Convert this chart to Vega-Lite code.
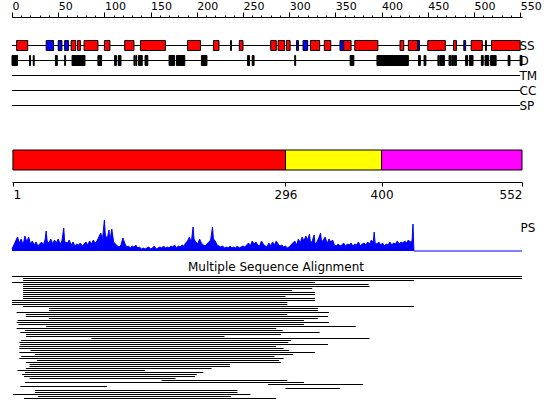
{
  "$schema": "https://vega.github.io/schema/vega-lite/v6.json",
  "background": "white",
  "padding": {"left": 10, "top": 0, "right": 0, "bottom": 0},
  "spacing": 11,
  "config": {
    "view": {"stroke": null},
    "font": "DejaVu Sans",
    "axis": {"labelFont": "DejaVu Sans", "labelColor": "black", "tickColor": "black", "domainColor": "black", "grid": false, "title": null}
  },
  "datasets": {
    "tracks": [
      {"track": "SS", "start": 0, "end": 550},
      {"track": "D", "start": 0, "end": 550},
      {"track": "TM", "start": 0, "end": 550},
      {"track": "CC", "start": 0, "end": 550},
      {"track": "SP", "start": 0, "end": 550}
    ],
    "features": [
      {"track": "SS", "kind": "helix", "start": 5, "end": 17},
      {"track": "SS", "kind": "strand", "start": 37, "end": 45},
      {"track": "SS", "kind": "strand", "start": 50, "end": 54},
      {"track": "SS", "kind": "strand", "start": 57, "end": 61},
      {"track": "SS", "kind": "helix", "start": 64, "end": 69},
      {"track": "SS", "kind": "helix", "start": 71, "end": 74},
      {"track": "SS", "kind": "helix", "start": 78, "end": 93},
      {"track": "SS", "kind": "helix", "start": 100, "end": 106},
      {"track": "SS", "kind": "helix", "start": 122, "end": 132},
      {"track": "SS", "kind": "helix", "start": 139, "end": 166},
      {"track": "SS", "kind": "helix", "start": 190, "end": 204},
      {"track": "SS", "kind": "helix", "start": 218, "end": 224},
      {"track": "SS", "kind": "helix", "start": 236.5, "end": 237.5},
      {"track": "SS", "kind": "helix", "start": 246, "end": 250},
      {"track": "SS", "kind": "helix", "start": 280, "end": 286},
      {"track": "SS", "kind": "helix", "start": 288, "end": 295},
      {"track": "SS", "kind": "helix", "start": 297, "end": 301},
      {"track": "SS", "kind": "strand", "start": 308, "end": 310},
      {"track": "SS", "kind": "strand", "start": 315, "end": 320},
      {"track": "SS", "kind": "helix", "start": 323, "end": 333},
      {"track": "SS", "kind": "helix", "start": 338, "end": 345},
      {"track": "SS", "kind": "strand", "start": 355, "end": 359},
      {"track": "SS", "kind": "helix", "start": 359, "end": 367},
      {"track": "SS", "kind": "helix", "start": 371, "end": 396},
      {"track": "SS", "kind": "helix", "start": 420, "end": 424},
      {"track": "SS", "kind": "helix", "start": 429, "end": 439},
      {"track": "SS", "kind": "strand", "start": 439, "end": 441},
      {"track": "SS", "kind": "helix", "start": 450, "end": 469},
      {"track": "SS", "kind": "helix", "start": 478, "end": 481},
      {"track": "SS", "kind": "strand", "start": 489, "end": 491},
      {"track": "SS", "kind": "helix", "start": 497, "end": 509},
      {"track": "SS", "kind": "helix", "start": 512.5, "end": 513.5},
      {"track": "SS", "kind": "helix", "start": 519, "end": 550},
      {"track": "D", "kind": "disorder", "start": 0, "end": 6},
      {"track": "D", "kind": "disorder", "start": 19, "end": 20},
      {"track": "D", "kind": "disorder", "start": 23, "end": 24},
      {"track": "D", "kind": "disorder", "start": 47, "end": 49},
      {"track": "D", "kind": "disorder", "start": 57, "end": 58},
      {"track": "D", "kind": "disorder", "start": 65, "end": 79},
      {"track": "D", "kind": "disorder", "start": 93, "end": 97},
      {"track": "D", "kind": "disorder", "start": 111, "end": 113},
      {"track": "D", "kind": "disorder", "start": 115, "end": 118},
      {"track": "D", "kind": "disorder", "start": 132, "end": 133},
      {"track": "D", "kind": "disorder", "start": 134, "end": 135},
      {"track": "D", "kind": "disorder", "start": 137, "end": 141},
      {"track": "D", "kind": "disorder", "start": 144, "end": 147},
      {"track": "D", "kind": "disorder", "start": 170, "end": 176},
      {"track": "D", "kind": "disorder", "start": 178, "end": 187},
      {"track": "D", "kind": "disorder", "start": 205, "end": 211},
      {"track": "D", "kind": "disorder", "start": 255, "end": 257},
      {"track": "D", "kind": "disorder", "start": 260, "end": 262},
      {"track": "D", "kind": "disorder", "start": 306, "end": 307},
      {"track": "D", "kind": "disorder", "start": 366, "end": 370},
      {"track": "D", "kind": "disorder", "start": 395, "end": 429},
      {"track": "D", "kind": "disorder", "start": 440, "end": 442},
      {"track": "D", "kind": "disorder", "start": 446, "end": 448},
      {"track": "D", "kind": "disorder", "start": 461, "end": 462},
      {"track": "D", "kind": "disorder", "start": 463, "end": 468},
      {"track": "D", "kind": "disorder", "start": 473, "end": 475},
      {"track": "D", "kind": "disorder", "start": 476, "end": 478},
      {"track": "D", "kind": "disorder", "start": 479, "end": 481},
      {"track": "D", "kind": "disorder", "start": 491, "end": 493},
      {"track": "D", "kind": "disorder", "start": 495, "end": 499},
      {"track": "D", "kind": "disorder", "start": 508, "end": 510},
      {"track": "D", "kind": "disorder", "start": 512, "end": 516},
      {"track": "D", "kind": "disorder", "start": 518, "end": 524},
      {"track": "D", "kind": "disorder", "start": 537, "end": 539},
      {"track": "D", "kind": "disorder", "start": 550, "end": 552}
    ],
    "domains": [
      {"domain": "d1", "start": 1, "end": 296},
      {"domain": "d2", "start": 296, "end": 400},
      {"domain": "d3", "start": 400, "end": 552}
    ],
    "ps": [
      {"pos": 0, "score": 2}, {"pos": 2, "score": 6}, {"pos": 4, "score": 10}, {"pos": 6, "score": 14}, {"pos": 8, "score": 8},
      {"pos": 10, "score": 12}, {"pos": 12, "score": 6}, {"pos": 14, "score": 15}, {"pos": 16, "score": 9}, {"pos": 18, "score": 14},
      {"pos": 20, "score": 7}, {"pos": 22, "score": 10}, {"pos": 24, "score": 6}, {"pos": 26, "score": 9}, {"pos": 28, "score": 5},
      {"pos": 30, "score": 7}, {"pos": 32, "score": 9}, {"pos": 34, "score": 6}, {"pos": 36, "score": 12}, {"pos": 37, "score": 20},
      {"pos": 38, "score": 10}, {"pos": 40, "score": 8}, {"pos": 42, "score": 12}, {"pos": 44, "score": 7}, {"pos": 46, "score": 11},
      {"pos": 48, "score": 8}, {"pos": 50, "score": 12}, {"pos": 52, "score": 7}, {"pos": 54, "score": 10}, {"pos": 56, "score": 23},
      {"pos": 57, "score": 9}, {"pos": 60, "score": 8}, {"pos": 62, "score": 11}, {"pos": 64, "score": 6}, {"pos": 66, "score": 9},
      {"pos": 68, "score": 5}, {"pos": 70, "score": 7}, {"pos": 72, "score": 6}, {"pos": 74, "score": 8}, {"pos": 76, "score": 5},
      {"pos": 78, "score": 7}, {"pos": 80, "score": 9}, {"pos": 82, "score": 6}, {"pos": 84, "score": 10}, {"pos": 86, "score": 7},
      {"pos": 88, "score": 11}, {"pos": 90, "score": 8}, {"pos": 92, "score": 10}, {"pos": 94, "score": 14}, {"pos": 96, "score": 18},
      {"pos": 98, "score": 12}, {"pos": 100, "score": 31}, {"pos": 101, "score": 16}, {"pos": 103, "score": 12}, {"pos": 105, "score": 21},
      {"pos": 106, "score": 10}, {"pos": 108, "score": 22}, {"pos": 110, "score": 9}, {"pos": 112, "score": 7}, {"pos": 114, "score": 5},
      {"pos": 116, "score": 4}, {"pos": 118, "score": 6}, {"pos": 120, "score": 13}, {"pos": 122, "score": 8}, {"pos": 124, "score": 4},
      {"pos": 126, "score": 5}, {"pos": 128, "score": 3}, {"pos": 130, "score": 5}, {"pos": 132, "score": 4}, {"pos": 134, "score": 6},
      {"pos": 136, "score": 3}, {"pos": 138, "score": 4}, {"pos": 140, "score": 2}, {"pos": 142, "score": 3}, {"pos": 144, "score": 2},
      {"pos": 146, "score": 3}, {"pos": 148, "score": 4}, {"pos": 150, "score": 2}, {"pos": 152, "score": 3}, {"pos": 154, "score": 5},
      {"pos": 156, "score": 2}, {"pos": 158, "score": 3}, {"pos": 160, "score": 4}, {"pos": 162, "score": 3}, {"pos": 164, "score": 5},
      {"pos": 166, "score": 3}, {"pos": 168, "score": 4}, {"pos": 170, "score": 3}, {"pos": 172, "score": 5}, {"pos": 174, "score": 4},
      {"pos": 176, "score": 6}, {"pos": 178, "score": 3}, {"pos": 180, "score": 5}, {"pos": 182, "score": 4}, {"pos": 184, "score": 6},
      {"pos": 186, "score": 5}, {"pos": 188, "score": 8}, {"pos": 190, "score": 10}, {"pos": 192, "score": 14}, {"pos": 194, "score": 8},
      {"pos": 196, "score": 24}, {"pos": 197, "score": 12}, {"pos": 199, "score": 9}, {"pos": 201, "score": 7}, {"pos": 203, "score": 12},
      {"pos": 205, "score": 8}, {"pos": 207, "score": 6}, {"pos": 209, "score": 5}, {"pos": 211, "score": 7}, {"pos": 213, "score": 9},
      {"pos": 215, "score": 11}, {"pos": 217, "score": 24}, {"pos": 218, "score": 12}, {"pos": 220, "score": 10}, {"pos": 222, "score": 6},
      {"pos": 224, "score": 5}, {"pos": 226, "score": 4}, {"pos": 228, "score": 5}, {"pos": 230, "score": 3}, {"pos": 232, "score": 4},
      {"pos": 234, "score": 3}, {"pos": 236, "score": 5}, {"pos": 238, "score": 3}, {"pos": 240, "score": 4}, {"pos": 242, "score": 3},
      {"pos": 244, "score": 5}, {"pos": 246, "score": 3}, {"pos": 248, "score": 4}, {"pos": 250, "score": 5}, {"pos": 252, "score": 4},
      {"pos": 254, "score": 6}, {"pos": 256, "score": 8}, {"pos": 258, "score": 5}, {"pos": 260, "score": 10}, {"pos": 262, "score": 7},
      {"pos": 264, "score": 9}, {"pos": 266, "score": 6}, {"pos": 268, "score": 5}, {"pos": 270, "score": 10}, {"pos": 272, "score": 7},
      {"pos": 274, "score": 5}, {"pos": 276, "score": 4}, {"pos": 278, "score": 8}, {"pos": 280, "score": 5}, {"pos": 282, "score": 9},
      {"pos": 284, "score": 6}, {"pos": 286, "score": 10}, {"pos": 288, "score": 7}, {"pos": 290, "score": 5}, {"pos": 292, "score": 6},
      {"pos": 294, "score": 4}, {"pos": 296, "score": 5}, {"pos": 298, "score": 3}, {"pos": 300, "score": 4}, {"pos": 302, "score": 6},
      {"pos": 304, "score": 8}, {"pos": 306, "score": 10}, {"pos": 308, "score": 6}, {"pos": 310, "score": 12}, {"pos": 312, "score": 8},
      {"pos": 314, "score": 14}, {"pos": 316, "score": 10}, {"pos": 318, "score": 15}, {"pos": 320, "score": 11}, {"pos": 322, "score": 17},
      {"pos": 323, "score": 8}, {"pos": 325, "score": 10}, {"pos": 327, "score": 16}, {"pos": 328, "score": 7}, {"pos": 330, "score": 9},
      {"pos": 332, "score": 13}, {"pos": 334, "score": 18}, {"pos": 335, "score": 9}, {"pos": 337, "score": 11}, {"pos": 339, "score": 14},
      {"pos": 341, "score": 7}, {"pos": 343, "score": 12}, {"pos": 345, "score": 9}, {"pos": 347, "score": 11}, {"pos": 349, "score": 6},
      {"pos": 351, "score": 5}, {"pos": 353, "score": 7}, {"pos": 355, "score": 5}, {"pos": 357, "score": 6}, {"pos": 359, "score": 8},
      {"pos": 361, "score": 5}, {"pos": 363, "score": 7}, {"pos": 365, "score": 6}, {"pos": 367, "score": 8}, {"pos": 369, "score": 5},
      {"pos": 371, "score": 7}, {"pos": 373, "score": 6}, {"pos": 375, "score": 9}, {"pos": 377, "score": 5}, {"pos": 379, "score": 7},
      {"pos": 381, "score": 8}, {"pos": 383, "score": 6}, {"pos": 385, "score": 9}, {"pos": 387, "score": 7}, {"pos": 389, "score": 11},
      {"pos": 391, "score": 8}, {"pos": 392, "score": 19}, {"pos": 393, "score": 8}, {"pos": 395, "score": 7}, {"pos": 397, "score": 9},
      {"pos": 399, "score": 6}, {"pos": 401, "score": 8}, {"pos": 403, "score": 5}, {"pos": 405, "score": 7}, {"pos": 407, "score": 6},
      {"pos": 409, "score": 9}, {"pos": 411, "score": 6}, {"pos": 413, "score": 8}, {"pos": 415, "score": 7}, {"pos": 417, "score": 10},
      {"pos": 419, "score": 7}, {"pos": 421, "score": 9}, {"pos": 423, "score": 8}, {"pos": 425, "score": 10}, {"pos": 427, "score": 8},
      {"pos": 429, "score": 11}, {"pos": 431, "score": 9}, {"pos": 433, "score": 10}, {"pos": 434, "score": 27}, {"pos": 435, "score": 0},
      {"pos": 552, "score": 0}
    ],
    "msa": [
      {"seq": "s01", "start": 0, "end": 552}, {"seq": "s02", "start": 12, "end": 552}, {"seq": "s03", "start": 12, "end": 435},
      {"seq": "s04", "start": 0, "end": 328}, {"seq": "s05", "start": 12, "end": 386}, {"seq": "s06", "start": 12, "end": 387},
      {"seq": "s07", "start": 12, "end": 325}, {"seq": "s08", "start": 12, "end": 303}, {"seq": "s09", "start": 12, "end": 328},
      {"seq": "s10", "start": 12, "end": 328}, {"seq": "s11", "start": 12, "end": 296}, {"seq": "s12", "start": 12, "end": 328},
      {"seq": "s13", "start": 0, "end": 328}, {"seq": "s14", "start": 0, "end": 298}, {"seq": "s15", "start": 0, "end": 298},
      {"seq": "s16", "start": 12, "end": 435}, {"seq": "s17", "start": 40, "end": 331}, {"seq": "s18", "start": 40, "end": 331},
      {"seq": "s19", "start": 5, "end": 343}, {"seq": "s20", "start": 15, "end": 298}, {"seq": "s21", "start": 15, "end": 342},
      {"seq": "s22", "start": 40, "end": 331}, {"seq": "s23", "start": 6, "end": 316}, {"seq": "s24", "start": 5, "end": 343},
      {"seq": "s25", "start": 7, "end": 316}, {"seq": "s26", "start": 37, "end": 372}, {"seq": "s27", "start": 5, "end": 286},
      {"seq": "s28", "start": 14, "end": 293}, {"seq": "s29", "start": 9, "end": 333}, {"seq": "s30", "start": 15, "end": 291},
      {"seq": "s31", "start": 15, "end": 230}, {"seq": "s32", "start": 86, "end": 387}, {"seq": "s33", "start": 10, "end": 302},
      {"seq": "s34", "start": 8, "end": 299}, {"seq": "s35", "start": 9, "end": 342}, {"seq": "s36", "start": 8, "end": 286},
      {"seq": "s37", "start": 8, "end": 294}, {"seq": "s38", "start": 20, "end": 300}, {"seq": "s39", "start": 8, "end": 328},
      {"seq": "s40", "start": 25, "end": 304}, {"seq": "s41", "start": 10, "end": 284}, {"seq": "s42", "start": 8, "end": 294},
      {"seq": "s43", "start": 27, "end": 289}, {"seq": "s44", "start": 15, "end": 291}, {"seq": "s45", "start": 19, "end": 236},
      {"seq": "s46", "start": 19, "end": 236}, {"seq": "s47", "start": 15, "end": 216}, {"seq": "s48", "start": 6, "end": 144},
      {"seq": "s49", "start": 14, "end": 207}, {"seq": "s50", "start": 11, "end": 200}, {"seq": "s51", "start": 13, "end": 198},
      {"seq": "s52", "start": 19, "end": 177}, {"seq": "s53", "start": 162, "end": 298}, {"seq": "s54", "start": 14, "end": 316},
      {"seq": "s55", "start": 277, "end": 380}, {"seq": "s56", "start": 9, "end": 103}, {"seq": "s57", "start": 296, "end": 355},
      {"seq": "s58", "start": 25, "end": 244}, {"seq": "s59", "start": 25, "end": 244}, {"seq": "s60", "start": 1, "end": 258},
      {"seq": "s61", "start": 28, "end": 237}, {"seq": "s62", "start": 13, "end": 286}
    ]
  },
  "resolve": {"scale": {"color": "independent"}},
  "vconcat": [
    {
      "spacing": 36,
      "resolve": {"scale": {"color": "independent"}},
      "vconcat": [
        {
          "width": 510,
          "height": 75,
          "layer": [
            {
              "data": {"name": "tracks"},
              "mark": {"type": "rule", "color": "black", "strokeWidth": 1},
              "encoding": {
                "x": {"field": "start", "type": "quantitative", "scale": {"domain": [0, 552], "nice": false, "zero": false},
                  "axis": {"orient": "top", "offset": 21, "values": [0, 50, 100, 150, 200, 250, 300, 350, 400, 450, 500, 550], "tickSize": 5, "labelAlign": "left", "labelPadding": 1, "labelFontSize": 11, "labelOverlap": false, "domain": true}},
                "x2": {"field": "end"},
                "y": {"field": "track", "type": "nominal", "sort": null,
                  "scale": {"domain": ["SS", "D", "TM", "CC", "SP"], "paddingInner": 0, "paddingOuter": 0},
                  "axis": {"orient": "right", "ticks": false, "tickSize": 0, "domain": false, "labelPadding": -3, "labelFontSize": 12, "labelAlign": "left"}}
              }
            },
            {
              "data": {"name": "features"},
              "mark": {"type": "bar", "stroke": "black", "strokeWidth": 1, "height": {"band": 0.667}},
              "encoding": {
                "x": {"field": "start", "type": "quantitative",
                  "axis": {"orient": "top", "offset": 21, "values": [0, 10, 20, 30, 40, 50, 60, 70, 80, 90, 100, 110, 120, 130, 140, 150, 160, 170, 180, 190, 200, 210, 220, 230, 240, 250, 260, 270, 280, 290, 300, 310, 320, 330, 340, 350, 360, 370, 380, 390, 400, 410, 420, 430, 440, 450, 460, 470, 480, 490, 500, 510, 520, 530, 540, 550], "tickSize": 2, "labels": false, "domain": false}},
                "x2": {"field": "end"},
                "y": {"field": "track", "type": "nominal"},
                "color": {"field": "kind", "type": "nominal", "scale": {"domain": ["helix", "strand", "disorder"], "range": ["#ff0000", "#0000ff", "#000000"]}, "legend": null}
              }
            }
          ],
          "resolve": {"axis": {"x": "independent"}}
        },
        {
          "width": 510,
          "height": 20,
          "data": {"name": "domains"},
          "mark": {"type": "rect", "stroke": "black", "strokeWidth": 1},
          "encoding": {
            "x": {"field": "start", "type": "quantitative", "scale": {"domain": [0, 552], "nice": false, "zero": false},
              "axis": {"orient": "bottom", "values": [1, 296, 400, 552], "offset": 12, "tickSize": 4, "labelFontSize": 12, "labelPadding": 3}},
            "x2": {"field": "end"},
            "color": {"field": "domain", "type": "nominal", "scale": {"domain": ["d1", "d2", "d3"], "range": ["#ff0000", "#ffff00", "#ff00ff"]}, "legend": null}
          }
        }
      ]
    },
    {
      "spacing": 8,
      "vconcat": [
        {
          "width": 510,
          "height": 40,
          "data": {"name": "ps"},
          "mark": {"type": "area", "color": "#0000ff", "opacity": 1, "line": {"color": "#0000ff", "strokeWidth": 1}},
          "encoding": {
            "x": {"field": "pos", "type": "quantitative", "scale": {"domain": [0, 552], "nice": false, "zero": false}, "axis": null},
            "y": {"field": "score", "type": "quantitative", "scale": {"domain": [0, 40], "nice": false},
              "axis": {"orient": "right", "title": "PS", "labels": false, "ticks": false, "domain": false, "titleAngle": 0, "titleAlign": "left", "titleBaseline": "top", "titleFontSize": 12, "titleFontWeight": "normal", "titleColor": "black", "titleX": -2, "titleY": 11}}
          }
        },
        {
          "width": 510,
          "height": 124,
          "title": {"text": "Multiple Sequence Alignment", "fontSize": 12, "fontWeight": "normal", "font": "DejaVu Sans", "color": "black", "anchor": "middle", "offset": 2, "dx": 9},
          "data": {"name": "msa"},
          "mark": {"type": "bar", "color": "black"},
          "encoding": {
            "x": {"field": "start", "type": "quantitative", "scale": {"domain": [0, 552], "nice": false, "zero": false}, "axis": null},
            "x2": {"field": "end"},
            "y": {"field": "seq", "type": "ordinal", "sort": null, "axis": null, "scale": {"paddingInner": 0.5, "paddingOuter": 0.25, "align": 0}}
          }
        }
      ]
    }
  ]
}
